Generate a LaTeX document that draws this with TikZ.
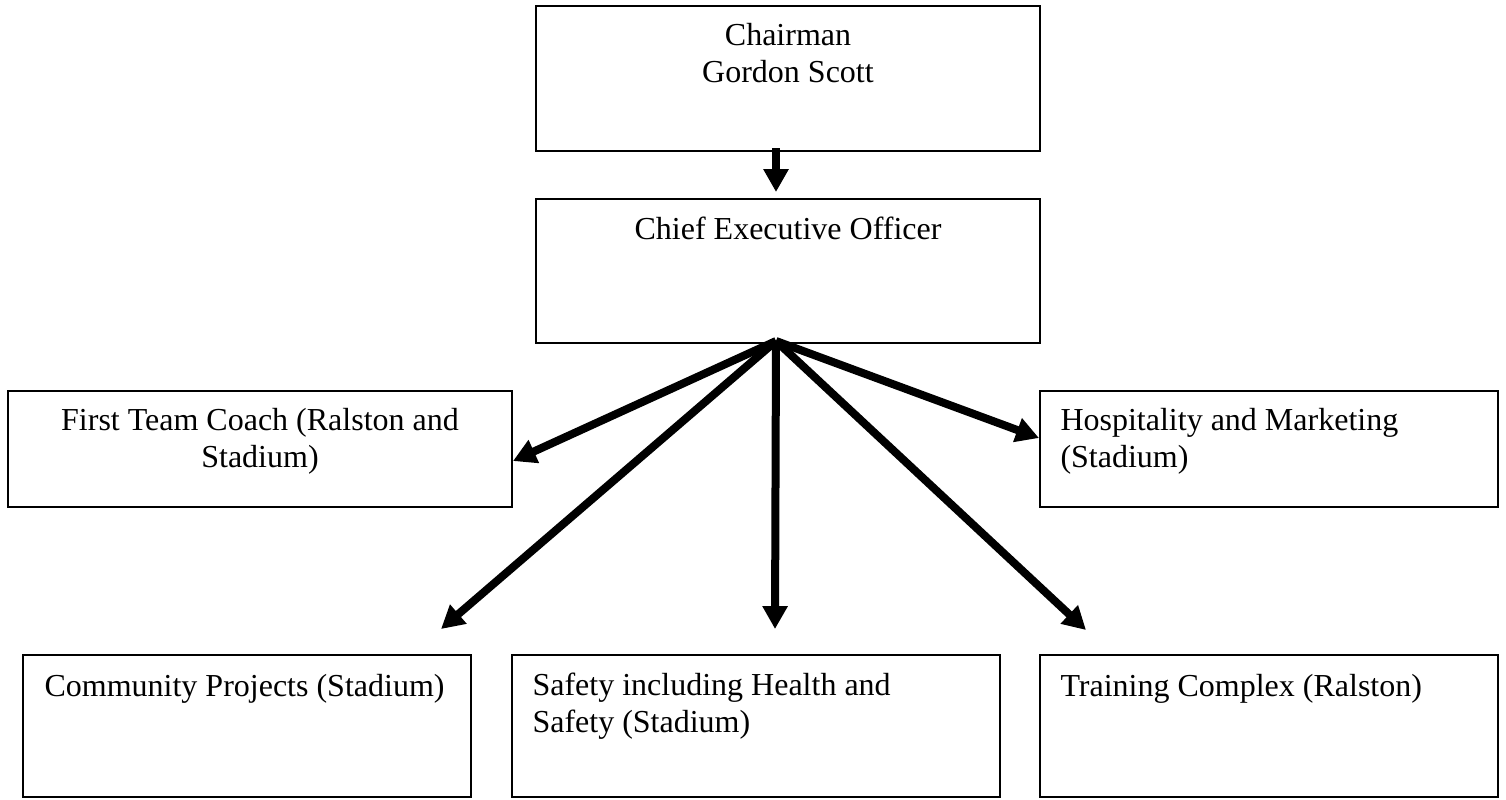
\documentclass[tikz,border=0pt]{standalone}
\usepackage{fontspec}
\setmainfont{Liberation Serif}
\usetikzlibrary{arrows.meta,calc,fit}

\tikzset{
	unit/.style={draw, line width=0.75pt, inner sep=0pt},
	caption/.style={inner sep=0pt, font=\fontsize{12}{13.9}\selectfont},
	report/.style={line width=3pt, -{Triangle[length=8.6pt,width=9pt]}}
}

\begin{document}
\begin{tikzpicture}[x=0.375pt, y=-0.375pt]
		\useasboundingbox (0,0) rectangle (1506,799);

		% boxes
		\node[unit, fit={(536,6) (1040,151)}] (chair) {};
		\node[unit, fit={(536,199) (1040,343)}] (ceo) {};
		\node[unit, fit={(8,391) (512,507)}] (coach) {};
		\node[unit, fit={(1040,391) (1498,507)}] (hosp) {};
		\node[unit, fit={(23,655) (471,797)}] (comm) {};
		\node[unit, fit={(512,655) (1000,797)}] (safety) {};
		\node[unit, fit={(1040,655) (1498,797)}] (train) {};

		% texts
		\node[caption, align=center, anchor=north] (chairT) at (788,23) {Chairman\\Gordon Scott};
		\node[caption, anchor=north] (ceoT) at (788,216) {Chief Executive Officer};
		\node[caption, align=center, anchor=north] (coachT) at (260,408) {First Team Coach (Ralston and\\Stadium)};
		\node[caption, align=left, anchor=north west] (hospT) at (1060,408) {Hospitality and Marketing\\(Stadium)};
		\node[caption, anchor=north west] (commT) at (44,674) {Community Projects (Stadium)};
		\node[caption, align=left, anchor=north west] (safetyT) at (532,672) {Safety including Health and\\Safety (Stadium)};
		\node[caption, anchor=north west] (trainT) at (1060,674) {Training Complex (Ralston)};

		% arrows
		\draw[report] ($(chair.south)+(-12,-4)$) -- ($(ceo.north)+(-12,-6)$);
		\coordinate (fan) at ($(ceo.south)+(-12,-3)$);
		\draw[report] (fan) -- ($(coach.north east)+(0,71)$);
		\draw[report] (fan) -- ($(hosp.north west)+(0,48)$);
		\draw[report] (fan) -- ($(comm.north east)+(-31,-25)$);
		\draw[report] (fan) -- ($(safety.north west)+(264,-25)$);
		\draw[report] (fan) -- ($(train.north west)+(47,-24)$);
\end{tikzpicture}
\end{document}
